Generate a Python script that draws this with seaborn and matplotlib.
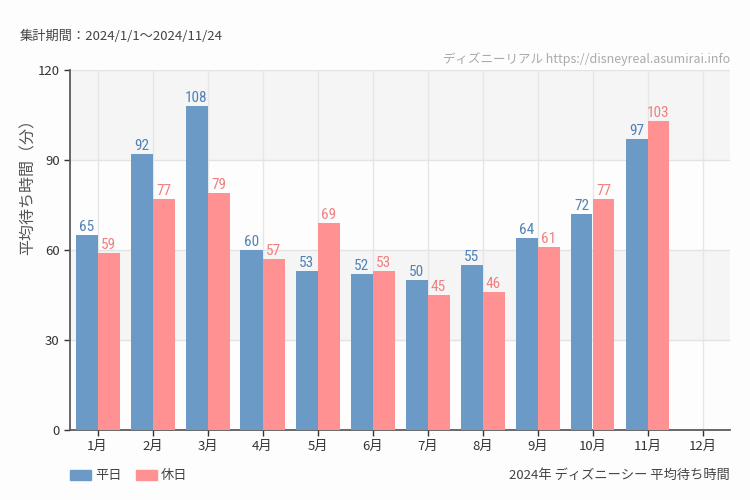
import pandas as pd
import numpy as np
import matplotlib.pyplot as plt
from matplotlib import font_manager
import seaborn as sns

months = ['1月', '2月', '3月', '4月', '5月', '6月', '7月', '8月', '9月', '10月', '11月', '12月']
weekday = [65, 92, 108, 60, 53, 52, 50, 55, 64, 72, 97, np.nan]
holiday = [59, 77, 79, 57, 69, 53, 45, 46, 61, 77, 103, np.nan]
series_names = ['平日', '休日']
colors = ['#6b9ac7', '#ff9192']
label_colors = ['#4f82b8', '#f07f80']
yticks = [0, 30, 60, 90, 120]

sns.set_theme(style="white")
plt.rcParams['font.family'] = ['Noto Sans CJK JP', 'DejaVu Sans']

# narrow font for the value labels, if one is installed
installed = {f.name for f in font_manager.fontManager.ttflist}
narrow = 'Noto Sans CJK JP'
for cand in ['Roboto Condensed', 'Liberation Sans Narrow', 'DejaVu Sans Condensed']:
    if cand in installed:
        narrow = cand
        break
label_stretch = 'condensed' if narrow == 'DejaVu Sans' else 'normal'

df = pd.DataFrame({
    '月': months * 2,
    '値': weekday + holiday,
    '種別': [series_names[0]] * 12 + [series_names[1]] * 12,
})

bg = '#fcfdfc'
fig = plt.figure(figsize=(7.5, 5), dpi=100, facecolor=bg)
ax = fig.add_axes([70 / 750, 70 / 500, 660 / 750, 360 / 500])
ax.set_facecolor(bg)

# alternating bands
for i in range(len(yticks) - 1):
    if i % 2 == 1:
        ax.axhspan(yticks[i], yticks[i + 1], color='#f4f5f4', zorder=0, lw=0)

sns.barplot(data=df, x='月', y='値', hue='種別', palette=colors, width=0.8,
            saturation=1, ax=ax, legend=False, zorder=3, linewidth=0)

for i in range(len(months)):
    ax.axvline(i, color='#e6e6e6', lw=1, zorder=1)
for y in yticks[1:]:
    ax.axhline(y, color='#e3e3e3', lw=1, zorder=1)

for cont, lc in zip(ax.containers, label_colors):
    labels = ['' if np.isnan(v) else f'{int(v)}' for v in cont.datavalues]
    ax.bar_label(cont, labels=labels, color=lc, fontsize=11, padding=1,
                 family=narrow)

ax.set_ylim(0, 120)
ax.set_xlim(-0.5, 11.5)
ax.set_yticks(yticks)
ax.set_xlabel('')
ax.set_ylabel('')
ax.tick_params(axis='both', labelsize=9.5, colors='#333333', length=4, width=1,
               direction='out', left=True, bottom=True)
for s in ['top', 'right']:
    ax.spines[s].set_visible(False)
ax.spines['left'].set_color('#555555')
ax.spines['bottom'].set_color('#555555')

fig.text(28 / 750, 1 - 183 / 500, '平均待ち時間（分）', fontsize=11.5, color='#555555',
         rotation=90, ha='center', va='center')
fig.text(20 / 750, 1 - 36 / 500, '集計期間：2024/1/1～2024/11/24', fontsize=9.5,
         color='#444444', va='center')
fig.text(730 / 750, 1 - 59 / 500, 'ディズニーリアル https://disneyreal.asumirai.info',
         fontsize=9, color='#aaaaaa', ha='right', va='center')
fig.text(730 / 750, 1 - 475 / 500, '2024年 ディズニーシー 平均待ち時間', fontsize=9.5,
         color='#444444', ha='right', va='center')

# legend
x0 = 70
for name, c in zip(series_names, colors):
    fig.patches.append(plt.Rectangle((x0 / 750, 1 - 480 / 500), 21 / 750, 10 / 500,
                                     transform=fig.transFigure, color=c, figure=fig))
    fig.text((x0 + 25) / 750, 1 - 475 / 500, name, fontsize=9.5, color='#444444', va='center')
    x0 += 66

fig.savefig('out.png', dpi=100, facecolor=bg)
